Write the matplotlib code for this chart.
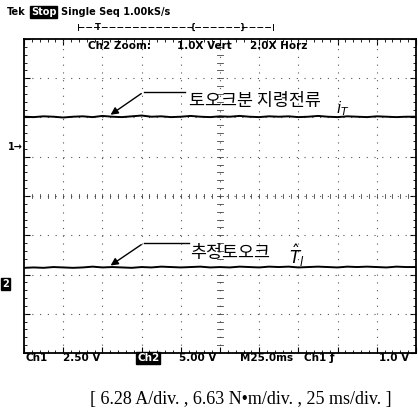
import matplotlib.pyplot as plt
from matplotlib.ticker import MultipleLocator

plt.rcParams['font.family'] = ['DejaVu Sans', 'Noto Sans CJK KR']

# scope screen: 10 x 8 divisions
x_div = [i * 0.25 for i in range(41)]

# torque current command i_T (div)
trace_iT = [6.02, 6.01, 6.03, 6.02, 6.00, 6.02, 6.03, 6.01, 6.04, 6.02,
            6.01, 6.03, 6.05, 6.02, 6.03, 6.01, 6.02, 6.04, 6.02, 6.01,
            6.03, 6.02, 6.04, 6.02, 6.01, 6.03, 6.02, 6.03, 6.01, 6.02,
            6.04, 6.02, 6.01, 6.03, 6.02, 6.01, 6.03, 6.02, 6.01, 6.02, 6.02]

# estimated torque T_l (div)
trace_Tl = [2.17, 2.18, 2.17, 2.19, 2.18, 2.17, 2.18, 2.20, 2.18, 2.19,
            2.18, 2.17, 2.19, 2.18, 2.20, 2.19, 2.18, 2.19, 2.20, 2.18,
            2.19, 2.18, 2.20, 2.19, 2.18, 2.20, 2.19, 2.20, 2.18, 2.19,
            2.20, 2.19, 2.18, 2.20, 2.19, 2.20, 2.19, 2.18, 2.20, 2.19, 2.19]

label_iT = "토오크분 지령전류"
label_Tl = "추정토오크"
caption = "[ 6.28 A/div. , 6.63 N•m/div. , 25 ms/div. ]"

W, H = 418, 419


def px(x, y):
    return x / W, 1 - y / H


fig = plt.figure(figsize=(4.18, 4.19), dpi=100)
ax = fig.add_axes([24 / W, 66 / H, 392 / W, 314 / H])
ax.set_xlim(0, 10)
ax.set_ylim(0, 8)

# graticule
for gx in range(1, 10):
    ax.axvline(gx, color='#555555', lw=0.8, ls=(0, (1, 6)))
for gy in range(1, 8):
    ax.axhline(gy, color='#555555', lw=0.8, ls=(0, (1, 6)))
# centre cross ticks
for k in range(1, 40):
    ax.plot([5 - 0.07, 5 + 0.07], [k * 0.2, k * 0.2], color='#444444', lw=0.6)
for k in range(1, 50):
    ax.plot([k * 0.2, k * 0.2], [4 - 0.06, 4 + 0.06], color='#444444', lw=0.6)

ax.xaxis.set_minor_locator(MultipleLocator(0.2))
ax.yaxis.set_minor_locator(MultipleLocator(0.2))
ax.xaxis.set_major_locator(MultipleLocator(1))
ax.yaxis.set_major_locator(MultipleLocator(1))
ax.tick_params(which='both', direction='in', top=True, right=True,
               labelbottom=False, labelleft=False)
ax.tick_params(which='major', length=4, width=0.8)
ax.tick_params(which='minor', length=2, width=0.6)
for s in ax.spines.values():
    s.set_linewidth(1.3)

ax.plot(x_div, trace_iT, color='black', lw=1.4)
ax.plot(x_div, trace_Tl, color='black', lw=1.4)

# annotations
ax.annotate('', xy=(2.15, 6.03), xytext=(3.05, 6.65),
            arrowprops=dict(arrowstyle='-|>', color='black', lw=1.0,
                            mutation_scale=11))
ax.plot([3.05, 4.1], [6.65, 6.65], color='black', lw=1.0)
ax.text(4.2, 6.3, label_iT, fontsize=12.5,
        family=['Noto Sans CJK KR', 'DejaVu Sans'])
ax.text(7.95, 6.1, r'$i_T$', fontsize=11)

ax.annotate('', xy=(2.15, 2.19), xytext=(3.05, 2.8),
            arrowprops=dict(arrowstyle='-|>', color='black', lw=1.0,
                            mutation_scale=11))
ax.plot([3.05, 4.2], [2.8, 2.8], color='black', lw=1.0)
ax.text(4.25, 2.42, label_Tl, fontsize=12.5,
        family=['Noto Sans CJK KR', 'DejaVu Sans'])
ax.text(6.75, 2.28, r'$\hat{T}_l$', fontsize=12)

# channel markers
fig.text(*px(8, 147), '1→', fontsize=7, fontweight='bold', va='center')
fig.text(*px(2, 284), '2', fontsize=7, fontweight='bold', color='white',
         va='center',
         bbox=dict(boxstyle='square,pad=0.15', fc='black', ec='black'))

# header
hdr = dict(fontsize=7, fontweight='bold', va='center')
fig.text(*px(7, 12), 'Tek', **hdr)
fig.text(*px(31, 12), 'Stop', color='white',
         bbox=dict(boxstyle='square,pad=0.1', fc='black', ec='black'), **hdr)
fig.text(*px(61, 12), 'Single Seq 1.00kS/s', **hdr)
ax.plot([1.38, 6.35], [8.3, 8.3], color='black', lw=0.7, ls=(0, (6, 2)),
        clip_on=False)
for mx in [1.38, 6.35]:
    ax.plot([mx, mx], [8.22, 8.38], color='black', lw=0.7, clip_on=False)
ax.text(1.89, 8.3, 'T', fontsize=6, fontweight='bold', ha='center', va='center')
ax.text(4.31, 8.3, '{', fontsize=6, fontweight='bold', ha='center', va='center')
ax.text(5.59, 8.3, '}', fontsize=6, fontweight='bold', ha='center', va='center')
fig.text(*px(88, 46), 'Ch2 Zoom:', fontsize=7.5, fontweight='bold', va='center')
fig.text(*px(177, 46), '1.0X Vert', fontsize=7.5, fontweight='bold', va='center')
fig.text(*px(250, 46), '2.0X Horz', fontsize=7.5, fontweight='bold', va='center')

# footer
ftr = dict(fontsize=7.5, fontweight='bold', va='center')
fy = 358
fig.text(*px(25, fy), 'Ch1', **ftr)
fig.text(*px(63, fy), '2.50 V', **ftr)
fig.text(*px(137, fy), 'Ch2', color='white',
         bbox=dict(boxstyle='square,pad=0.1', fc='black', ec='black'), **ftr)
fig.text(*px(179, fy), '5.00 V', **ftr)
fig.text(*px(240, fy), 'M25.0ms', **ftr)
fig.text(*px(304, fy), 'Ch1 ƒ', **ftr)
fig.text(*px(379, fy), '1.0 V', **ftr)

fig.text(0.575, 0.047, caption, fontsize=13, ha='center', va='center',
         family='Liberation Serif')

fig.savefig('out.png', dpi=100, facecolor='white')
